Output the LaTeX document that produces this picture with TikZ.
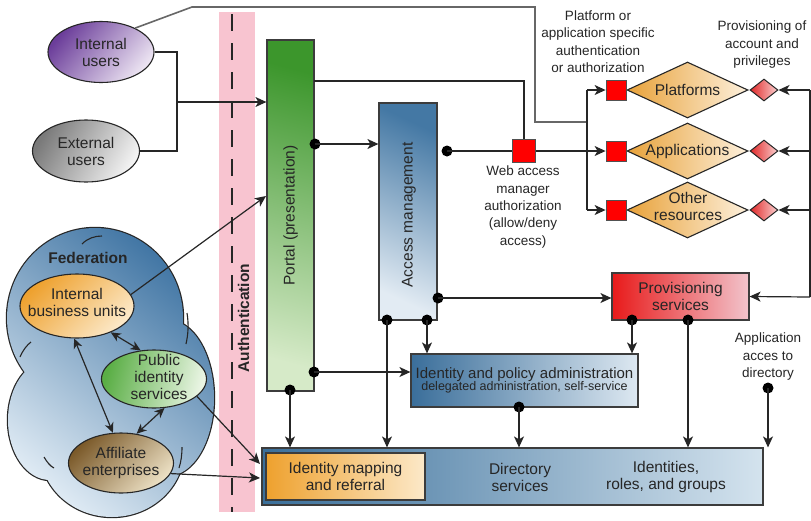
\documentclass[tikz,border=0pt]{standalone}
\usepackage{fontspec}
\setmainfont{Liberation Sans}
\usetikzlibrary{shapes.geometric, arrows.meta}
\definecolor{purpleD}{HTML}{6B3D9A}\definecolor{purpleL}{HTML}{ECE4F2}
\definecolor{grayD}{HTML}{7A7A7A}\definecolor{grayL}{HTML}{F2F2F2}
\definecolor{greenD}{HTML}{3C962C}\definecolor{greenL}{HTML}{D6EAC8}
\definecolor{blueD}{HTML}{4478A4}\definecolor{blueL}{HTML}{E2EBF3}
\definecolor{adminD}{HTML}{3A6E9A}\definecolor{adminL}{HTML}{DDE8F1}
\definecolor{dirD}{HTML}{3A6F9A}\definecolor{dirL}{HTML}{D4E3EE}
\definecolor{orangeD}{HTML}{EEA12E}\definecolor{orangeL}{HTML}{FCE9C9}
\definecolor{redD}{HTML}{E81A1A}\definecolor{redL}{HTML}{F2C4CC}
\definecolor{diaD}{HTML}{E8A23A}\definecolor{diaL}{HTML}{FDF0DC}
\definecolor{sredD}{HTML}{E02828}\definecolor{sredL}{HTML}{FBD0D0}
\definecolor{pubD}{HTML}{5AAE45}\definecolor{pubL}{HTML}{EAF5E4}
\definecolor{brownD}{HTML}{7B5A2A}\definecolor{brownL}{HTML}{ECE0C4}
\definecolor{cloudD}{HTML}{3F74A3}\definecolor{cloudL}{HTML}{DDE9F3}
\definecolor{bandpink}{HTML}{F8C4D0}
\definecolor{ink}{HTML}{262626}
\begin{document}
\begin{tikzpicture}[x=1pt,y=-1pt,
  conn/.style={draw=ink, line width=1.2pt},
  arr/.style={conn, -{Stealth[length=11pt,width=10pt,inset=3pt]}},
  darr/.style={conn, {Stealth[length=10pt,width=9pt,inset=3pt]}-{Stealth[length=10pt,width=9pt,inset=3pt]}},
  dot/.style={circle, fill=black, inner sep=0, minimum size=11pt},
  lbl/.style={font=\fontsize{15.5}{17}\selectfont, align=center, text=ink},
  smalllbl/.style={font=\fontsize{13.5}{17.5}\selectfont, align=center, text=ink},
  ell/.style={ellipse, draw=ink, line width=1.1pt, inner sep=0},
  box/.style={rectangle, draw=ink!90, line width=1.2pt, inner sep=0},
  bigdia/.style={diamond, draw=ink, line width=1.1pt, inner sep=0, minimum width=121pt, minimum height=56pt, top color=diaD, bottom color=diaL, shading angle=90},
  smalldia/.style={diamond, draw=ink, line width=1pt, inner sep=0, minimum width=28pt, minimum height=22pt, top color=sredD, bottom color=sredL, shading angle=90},
  redsq/.style={rectangle, fill=red, draw=ink!80, line width=0.8pt, inner sep=0, minimum size=#1},
  redsq/.default=20pt,
  cloudarc/.style={draw=ink, line width=1.1pt}
]
\useasboundingbox (0,0) rectangle (811,520);
\fill[white] (0,0) rectangle (811,520);

% authentication band
\fill[bandpink] (219,12) rectangle (255,512);
\draw[ink, line width=1.3pt, dash pattern=on 17pt off 12pt] (232,14) -- (232,512);
\node[rotate=90, font=\bfseries\fontsize{15.5}{17}\selectfont, text=ink] (authtxt) at (243.5,318) {Authentication};

% federation cloud
\begin{scope}
  \foreach \cx/\cy/\rx/\ry in {95/318/88/90, 168/398/46/78, 112/450/72/67, 50/420/42/60}{
    \draw[ink, line width=2.4pt] (\cx,\cy) ellipse [x radius=\rx pt, y radius=\ry pt];
  }
  \shade[top color=cloudD, bottom color=cloudL, shading angle=-40]
    (95,318) ellipse [x radius=88pt, y radius=90pt]
    (168,398) ellipse [x radius=46pt, y radius=78pt]
    (112,450) ellipse [x radius=72pt, y radius=67pt]
    (50,420) ellipse [x radius=42pt, y radius=60pt];
  \draw[cloudarc] (82,244) .. controls (88,238) and (95,236) .. (102,236);
  \draw[cloudarc] (187,313) .. controls (189,325) and (188,335) .. (186,344);
  \draw[cloudarc] (20,357) .. controls (23,350) and (27,345) .. (31,342);
  \draw[cloudarc] (44,457) .. controls (47,462) and (50,466) .. (54,468);
  \draw[cloudarc] (182,447) .. controls (182,455) and (181,462) .. (179,468);
\end{scope}
\node[font=\bfseries\fontsize{15.5}{17}\selectfont, text=ink] (fedtxt) at (88,258) {Federation};

% user ellipses
\node[ell, minimum width=106pt, minimum height=61pt, top color=purpleD, bottom color=purpleL, shading angle=50] (iu) at (101,52) {};
\node[lbl] at (iu) {Internal\\users};
\node[ell, minimum width=107pt, minimum height=62pt, top color=grayD, bottom color=grayL, shading angle=60] (ext) at (86,151) {};
\node[lbl] at (ext) {External\\users};

% federation members
\node[ell, minimum width=114pt, minimum height=64pt, top color=orangeD, bottom color=orangeL, shading angle=45] (ibu) at (77,306) {};
\node[lbl] at (77,302) {Internal\\business units};
\node[ell, minimum width=105pt, minimum height=58pt, top color=pubD, bottom color=pubL, shading angle=75] (pub) at (154,379) {};
\node[lbl] at (159,377) {Public\\identity\\services};
\node[ell, minimum width=105pt, minimum height=60pt, top color=brownD, bottom color=brownL, shading angle=45] (aff) at (121,463) {};
\node[lbl] at (aff) {Affiliate\\enterprises};

% main boxes
\node[box, minimum width=47pt, minimum height=351pt, top color=greenD, bottom color=greenL, shading angle=-15] (portal) at (290.5,215.5) {};
\node[lbl, rotate=90] at (portal) {Portal (presentation)};
\node[box, minimum width=58pt, minimum height=217pt, top color=blueD, bottom color=blueL, shading angle=-25] (am) at (408,211.5) {};
\node[lbl, rotate=90] at (409,215) {Access management};
\node[box, minimum width=227pt, minimum height=53pt, top color=adminD, bottom color=adminL, shading angle=90, align=center, text=ink] (ida) at (524.5,380.5)
  {\fontsize{15}{18}\selectfont Identity and policy administration\\[-1pt]\fontsize{12.5}{14}\selectfont delegated administration, self-service};
\node[box, minimum width=501pt, minimum height=57pt, top color=dirD, bottom color=dirL, shading angle=90] (dir) at (512.5,476.5) {};
\node[box, minimum width=159pt, minimum height=47pt, top color=orangeD, bottom color=orangeL, shading angle=90] (idm) at (345.5,476.5) {};
\node[lbl] at (idm) {Identity mapping\\and referral};
\node[lbl] (dirtxt) at (520,477) {Directory\\services};
\node[lbl] (idtxt) at (666,477) {Identities,\\roles, and groups};
\node[box, minimum width=137pt, minimum height=47pt, top color=redD, bottom color=redL, shading angle=90] (prov) at (680.5,296.5) {};
\node[lbl] at (prov) {Provisioning\\services};

% resources
\node[bigdia] (dia1) at (687.5,90) {};
\node[bigdia] (dia2) at (687.5,151) {};
\node[bigdia] (dia3) at (687.5,210) {};
\node[lbl] at (dia1) {Platforms};
\node[lbl] at (dia2) {Applications};
\node[lbl] at (688,206) {Other\\resources};
\node[smalldia] (sd1) at (764,90) {};
\node[smalldia] (sd2) at (764,151) {};
\node[smalldia] (sd3) at (764,210) {};
\node[redsq] (rs1) at (616,90) {};
\node[redsq] (rs2) at (616,151) {};
\node[redsq] (rs3) at (616,210) {};
\node[redsq=23pt] (rs0) at (524,151) {};

% labels
\node[smalllbl] (lplat) at (598,41.5) {Platform or\\application specific\\authentication\\or authorization};
\node[smalllbl] (lprov) at (762,45) {Provisioning of\\account and\\privileges};
\node[smalllbl] (lweb) at (523,207) {Web access\\manager\\authorization\\(allow/deny\\access)};
\node[smalllbl] (lapp) at (768,357) {Application\\acces to\\directory};

% coordinates
\coordinate (j1) at (177,52);
\coordinate (j2) at (177,151);
\coordinate (j3) at (177,102);
\coordinate (t1) at (192,7);
\coordinate (t2) at (535,7);
\coordinate (t3) at (535,122);
\coordinate (t4) at (587,122);
\coordinate (b1) at (587,90);
\coordinate (b3) at (587,210);
\coordinate (p81) at (314,81);
\coordinate (c81) at (524,81);
\coordinate (r1) at (810,90);
\coordinate (r2) at (810,151);
\coordinate (r3) at (810,210);
\coordinate (r4) at (810,297);
\coordinate (pin) at (266,196);
\coordinate (din1) at (260,464);
\coordinate (din2) at (260,478);

% dots
\node[dot] (dP1) at (315,144) {};
\node[dot] (dA1) at (447,151) {};
\node[dot] (dA2) at (438,298) {};
\node[dot] (dA3) at (387,320) {};
\node[dot] (dA4) at (427,320) {};
\node[dot] (dP2) at (314,372) {};
\node[dot] (dP3) at (290,390) {};
\node[dot] (dI) at (519,407) {};
\node[dot] (dR1) at (632,320) {};
\node[dot] (dR2) at (688,320) {};
\node[dot] (dX) at (768,388) {};

% connectors: users
\draw[conn] (iu.east) -- (j1) -- (j2) -- (ext.east);
\draw[arr] (j3) -- (j3 -| portal.west);
\draw[conn, draw=ink!70, line width=1.6pt] (iu.35) -- (t1) -- (t2) -- (t3) -- (t4);
\draw[conn] (b1) -- (b3);
\draw[arr] (b1) -- (rs1);
\draw[arr] (b3) -- (rs3);

% portal / access management
\draw[conn] (p81) -- (c81) -- (rs0.north);
\draw[arr] (dP1.center) -- (dP1 -| am.west);
\draw[conn] (dA1.center) -- (rs0);
\draw[arr] (rs0) -- (rs2);
\draw[arr] (dA2.center) -- (dA2 -| prov.west);
\draw[arr] (dA3.center) -- (dA3 |- dir.north);
\draw[arr] (dA4.center) -- (dA4 |- ida.north);
\draw[arr] (dP2.center) -- (dP2 -| ida.west);
\draw[arr] (dP3.center) -- (dP3 |- dir.north);
\draw[arr] (dI.center) -- (dI |- dir.north);
\draw[arr] (dR1.center) -- (dR1 |- ida.north);
\draw[arr] (dR2.center) -- (dR2 |- dir.north);
\draw[arr] (dX.center) -- (dX |- dir.north);

% right side provisioning
\draw[conn] (r1) -- (r4);
\draw[arr] (r1) -- (sd1);
\draw[arr] (r2) -- (sd2);
\draw[arr] (r3) -- (sd3);
\draw[arr] (r4) -- (prov.east);

% federation links
\draw[arr] (ibu.12) -- (pin);
\draw[darr] (ibu.-38) -- (pub.115);
\draw[darr] (ibu.-95) -- (aff.105);
\draw[darr] (pub.-70) -- (aff.62);
\draw[arr] (pub.-22) -- (din1);
\draw[arr] (aff.-12) -- (din2);
\end{tikzpicture}
\end{document}
